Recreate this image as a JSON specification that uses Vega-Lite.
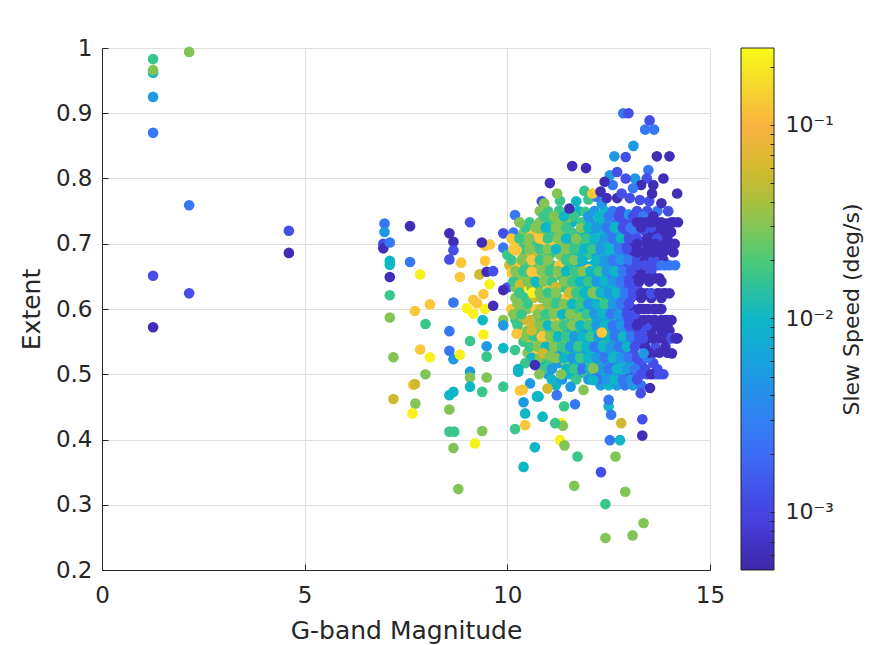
{
  "$schema": "https://vega.github.io/schema/vega-lite/v6.json",
  "width": 608,
  "height": 522,
  "autosize": {"type": "none"},
  "padding": {"left": 102, "top": 48, "right": 181, "bottom": 75},
  "background": "white",
  "config": {"view": {"stroke": null}, "font": "DejaVu Sans"},
  "data": {
    "values": [
      {"mag":10.3,"ext":0.733,"speed":0.03},{"mag":10.55,"ext":0.733,"speed":0.017},{"mag":10.8,"ext":0.733,"speed":0.03},{"mag":11.05,"ext":0.733,"speed":0.017},{"mag":11.3,"ext":0.733,"speed":0.03},{"mag":11.43,"ext":0.728,"speed":0.03},{"mag":11.6,"ext":0.733,"speed":0.01},{"mag":11.85,"ext":0.733,"speed":0.017},{"mag":12.05,"ext":0.733,"speed":0.005},{"mag":12.3,"ext":0.733,"speed":0.01},{"mag":12.5,"ext":0.733,"speed":0.005},{"mag":12.7,"ext":0.733,"speed":0.0025},{"mag":12.9,"ext":0.733,"speed":0.0012},{"mag":13.1,"ext":0.733,"speed":0.0012},
      {"mag":10.8,"ext":0.75,"speed":0.03},{"mag":11.0,"ext":0.75,"speed":0.017},{"mag":11.28,"ext":0.751,"speed":0.017},{"mag":11.5,"ext":0.74,"speed":0.03},{"mag":11.75,"ext":0.75,"speed":0.01},{"mag":11.92,"ext":0.749,"speed":0.017},{"mag":12.15,"ext":0.75,"speed":0.005},{"mag":12.4,"ext":0.75,"speed":0.01},{"mag":12.6,"ext":0.75,"speed":0.0025},{"mag":12.8,"ext":0.75,"speed":0.0012},{"mag":13.0,"ext":0.745,"speed":0.005},{"mag":13.2,"ext":0.75,"speed":0.0012},{"mag":13.45,"ext":0.75,"speed":0.0012},{"mag":13.7,"ext":0.75,"speed":0.0025},{"mag":13.97,"ext":0.75,"speed":0.0012},
      {"mag":9.9,"ext":0.716,"speed":0.0012},{"mag":10.15,"ext":0.717,"speed":0.0025},{"mag":10.4,"ext":0.717,"speed":0.03},{"mag":10.6,"ext":0.717,"speed":0.12},{"mag":10.85,"ext":0.717,"speed":0.03},{"mag":11.1,"ext":0.717,"speed":0.017},{"mag":11.35,"ext":0.717,"speed":0.03},{"mag":11.6,"ext":0.717,"speed":0.017},{"mag":11.85,"ext":0.717,"speed":0.01},{"mag":12.1,"ext":0.717,"speed":0.005},{"mag":12.35,"ext":0.717,"speed":0.01},{"mag":12.55,"ext":0.717,"speed":0.0025},{"mag":12.75,"ext":0.717,"speed":0.005},{"mag":12.95,"ext":0.717,"speed":0.0012},{"mag":13.15,"ext":0.717,"speed":0.0025},{"mag":13.38,"ext":0.72,"speed":0.0012},{"mag":13.6,"ext":0.717,"speed":0.0006},{"mag":13.85,"ext":0.717,"speed":0.0006},
      {"mag":9.9,"ext":0.694,"speed":0.0025},{"mag":10.23,"ext":0.7,"speed":0.12},{"mag":10.45,"ext":0.7,"speed":0.03},{"mag":10.7,"ext":0.7,"speed":0.017},{"mag":10.9,"ext":0.7,"speed":0.12},{"mag":11.18,"ext":0.698,"speed":0.12},{"mag":11.35,"ext":0.7,"speed":0.03},{"mag":11.55,"ext":0.7,"speed":0.017},{"mag":11.8,"ext":0.7,"speed":0.017},{"mag":12.05,"ext":0.7,"speed":0.01},{"mag":12.25,"ext":0.7,"speed":0.005},{"mag":12.5,"ext":0.7,"speed":0.01},{"mag":12.7,"ext":0.7,"speed":0.0025},{"mag":12.9,"ext":0.7,"speed":0.0012},{"mag":13.1,"ext":0.7,"speed":0.0006},{"mag":13.3,"ext":0.7,"speed":0.0006},{"mag":13.55,"ext":0.7,"speed":0.0006},{"mag":13.77,"ext":0.7,"speed":0.0006},{"mag":14.0,"ext":0.7,"speed":0.0006},{"mag":14.13,"ext":0.7,"speed":0.0006},
      {"mag":10.0,"ext":0.683,"speed":0.017},{"mag":10.2,"ext":0.69,"speed":0.12},{"mag":10.4,"ext":0.683,"speed":0.03},{"mag":10.6,"ext":0.683,"speed":0.058},{"mag":10.85,"ext":0.683,"speed":0.03},{"mag":11.05,"ext":0.683,"speed":0.017},{"mag":11.3,"ext":0.683,"speed":0.03},{"mag":11.5,"ext":0.683,"speed":0.017},{"mag":11.75,"ext":0.683,"speed":0.01},{"mag":12.0,"ext":0.683,"speed":0.017},{"mag":12.2,"ext":0.683,"speed":0.005},{"mag":12.45,"ext":0.683,"speed":0.01},{"mag":12.65,"ext":0.683,"speed":0.005},{"mag":12.85,"ext":0.683,"speed":0.0025},{"mag":13.1,"ext":0.687,"speed":0.0006},{"mag":13.3,"ext":0.687,"speed":0.0006},{"mag":13.5,"ext":0.687,"speed":0.0006},{"mag":13.77,"ext":0.686,"speed":0.0006},{"mag":14.08,"ext":0.688,"speed":0.0006},
      {"mag":10.05,"ext":0.667,"speed":0.058},{"mag":10.25,"ext":0.667,"speed":0.12},{"mag":10.45,"ext":0.667,"speed":0.017},{"mag":10.65,"ext":0.667,"speed":0.03},{"mag":10.9,"ext":0.667,"speed":0.03},{"mag":11.1,"ext":0.667,"speed":0.017},{"mag":11.3,"ext":0.667,"speed":0.01},{"mag":11.5,"ext":0.667,"speed":0.017},{"mag":11.7,"ext":0.667,"speed":0.01},{"mag":11.9,"ext":0.667,"speed":0.005},{"mag":12.1,"ext":0.667,"speed":0.01},{"mag":12.3,"ext":0.667,"speed":0.005},{"mag":12.5,"ext":0.667,"speed":0.005},{"mag":12.7,"ext":0.667,"speed":0.0025},{"mag":12.9,"ext":0.667,"speed":0.0012},{"mag":13.1,"ext":0.667,"speed":0.0012},{"mag":13.3,"ext":0.667,"speed":0.0025},{"mag":13.5,"ext":0.667,"speed":0.0012},{"mag":13.7,"ext":0.667,"speed":0.0012},{"mag":13.9,"ext":0.667,"speed":0.0025},{"mag":14.14,"ext":0.667,"speed":0.0025},
      {"mag":10.11,"ext":0.655,"speed":0.12},{"mag":10.3,"ext":0.65,"speed":0.03},{"mag":10.55,"ext":0.65,"speed":0.017},{"mag":10.75,"ext":0.65,"speed":0.12},{"mag":10.95,"ext":0.65,"speed":0.03},{"mag":11.15,"ext":0.65,"speed":0.058},{"mag":11.35,"ext":0.65,"speed":0.017},{"mag":11.55,"ext":0.65,"speed":0.03},{"mag":11.75,"ext":0.65,"speed":0.017},{"mag":11.95,"ext":0.65,"speed":0.01},{"mag":12.15,"ext":0.65,"speed":0.005},{"mag":12.35,"ext":0.65,"speed":0.01},{"mag":12.55,"ext":0.65,"speed":0.0025},{"mag":12.75,"ext":0.65,"speed":0.005},{"mag":12.95,"ext":0.65,"speed":0.0012},{"mag":13.2,"ext":0.647,"speed":0.0006},{"mag":13.45,"ext":0.647,"speed":0.0006},{"mag":13.75,"ext":0.647,"speed":0.0006},
      {"mag":10.0,"ext":0.633,"speed":0.0012},{"mag":10.2,"ext":0.633,"speed":0.03},{"mag":10.4,"ext":0.633,"speed":0.22},{"mag":10.6,"ext":0.633,"speed":0.03},{"mag":10.8,"ext":0.633,"speed":0.017},{"mag":11.0,"ext":0.633,"speed":0.12},{"mag":11.2,"ext":0.633,"speed":0.03},{"mag":11.4,"ext":0.633,"speed":0.017},{"mag":11.6,"ext":0.633,"speed":0.03},{"mag":11.8,"ext":0.633,"speed":0.017},{"mag":12.0,"ext":0.633,"speed":0.01},{"mag":12.2,"ext":0.633,"speed":0.017},{"mag":12.4,"ext":0.633,"speed":0.005},{"mag":12.6,"ext":0.633,"speed":0.01},{"mag":12.8,"ext":0.633,"speed":0.0025},{"mag":13.0,"ext":0.633,"speed":0.0012},{"mag":13.2,"ext":0.633,"speed":0.0012},{"mag":13.45,"ext":0.624,"speed":0.0006},{"mag":13.7,"ext":0.624,"speed":0.0006},{"mag":14.0,"ext":0.624,"speed":0.0006},
      {"mag":10.2,"ext":0.617,"speed":0.03},{"mag":10.45,"ext":0.617,"speed":0.017},{"mag":10.65,"ext":0.617,"speed":0.058},{"mag":10.85,"ext":0.617,"speed":0.03},{"mag":11.05,"ext":0.617,"speed":0.03},{"mag":11.25,"ext":0.617,"speed":0.017},{"mag":11.45,"ext":0.617,"speed":0.12},{"mag":11.65,"ext":0.617,"speed":0.03},{"mag":11.85,"ext":0.617,"speed":0.017},{"mag":12.05,"ext":0.617,"speed":0.01},{"mag":12.25,"ext":0.617,"speed":0.03},{"mag":12.45,"ext":0.617,"speed":0.01},{"mag":12.65,"ext":0.617,"speed":0.005},{"mag":12.85,"ext":0.617,"speed":0.0025},{"mag":13.05,"ext":0.617,"speed":0.0012},{"mag":13.3,"ext":0.617,"speed":0.0006},{"mag":13.55,"ext":0.617,"speed":0.0006},{"mag":13.8,"ext":0.617,"speed":0.0006},
      {"mag":10.1,"ext":0.6,"speed":0.12},{"mag":10.3,"ext":0.6,"speed":0.03},{"mag":10.5,"ext":0.6,"speed":0.03},{"mag":10.7,"ext":0.6,"speed":0.12},{"mag":10.9,"ext":0.6,"speed":0.017},{"mag":11.1,"ext":0.6,"speed":0.03},{"mag":11.3,"ext":0.6,"speed":0.058},{"mag":11.5,"ext":0.6,"speed":0.017},{"mag":11.7,"ext":0.6,"speed":0.017},{"mag":11.9,"ext":0.6,"speed":0.01},{"mag":12.1,"ext":0.6,"speed":0.005},{"mag":12.3,"ext":0.6,"speed":0.01},{"mag":12.5,"ext":0.6,"speed":0.005},{"mag":12.7,"ext":0.6,"speed":0.0025},{"mag":12.9,"ext":0.6,"speed":0.0012},{"mag":13.1,"ext":0.6,"speed":0.0006},{"mag":13.35,"ext":0.6,"speed":0.0006},{"mag":13.6,"ext":0.6,"speed":0.0006},{"mag":13.8,"ext":0.6,"speed":0.0006},
      {"mag":10.2,"ext":0.583,"speed":0.017},{"mag":10.4,"ext":0.583,"speed":0.058},{"mag":10.6,"ext":0.583,"speed":0.03},{"mag":10.8,"ext":0.583,"speed":0.017},{"mag":11.0,"ext":0.583,"speed":0.03},{"mag":11.2,"ext":0.583,"speed":0.12},{"mag":11.4,"ext":0.583,"speed":0.03},{"mag":11.6,"ext":0.583,"speed":0.017},{"mag":11.8,"ext":0.583,"speed":0.01},{"mag":12.0,"ext":0.583,"speed":0.03},{"mag":12.2,"ext":0.583,"speed":0.01},{"mag":12.4,"ext":0.583,"speed":0.005},{"mag":12.6,"ext":0.583,"speed":0.01},{"mag":12.8,"ext":0.583,"speed":0.0025},{"mag":13.0,"ext":0.583,"speed":0.0012},{"mag":13.25,"ext":0.583,"speed":0.0006},{"mag":13.5,"ext":0.583,"speed":0.0006},{"mag":13.8,"ext":0.583,"speed":0.0006},{"mag":14.05,"ext":0.583,"speed":0.0006},
      {"mag":10.3,"ext":0.567,"speed":0.12},{"mag":10.5,"ext":0.567,"speed":0.03},{"mag":10.7,"ext":0.567,"speed":0.017},{"mag":10.9,"ext":0.567,"speed":0.03},{"mag":11.1,"ext":0.567,"speed":0.017},{"mag":11.3,"ext":0.567,"speed":0.03},{"mag":11.5,"ext":0.567,"speed":0.01},{"mag":11.7,"ext":0.567,"speed":0.017},{"mag":11.9,"ext":0.567,"speed":0.005},{"mag":12.1,"ext":0.567,"speed":0.01},{"mag":12.3,"ext":0.567,"speed":0.017},{"mag":12.5,"ext":0.567,"speed":0.005},{"mag":12.7,"ext":0.567,"speed":0.0025},{"mag":12.9,"ext":0.567,"speed":0.0025},{"mag":13.1,"ext":0.567,"speed":0.0012},{"mag":13.3,"ext":0.567,"speed":0.0012},{"mag":13.55,"ext":0.567,"speed":0.0006},{"mag":13.8,"ext":0.567,"speed":0.0006},{"mag":14.0,"ext":0.567,"speed":0.0006},
      {"mag":10.4,"ext":0.55,"speed":0.017},{"mag":10.6,"ext":0.55,"speed":0.12},{"mag":10.8,"ext":0.55,"speed":0.03},{"mag":11.0,"ext":0.55,"speed":0.058},{"mag":11.2,"ext":0.55,"speed":0.017},{"mag":11.4,"ext":0.55,"speed":0.03},{"mag":11.6,"ext":0.55,"speed":0.01},{"mag":11.8,"ext":0.55,"speed":0.017},{"mag":12.0,"ext":0.55,"speed":0.005},{"mag":12.2,"ext":0.55,"speed":0.01},{"mag":12.4,"ext":0.55,"speed":0.017},{"mag":12.6,"ext":0.55,"speed":0.01},{"mag":12.8,"ext":0.55,"speed":0.005},{"mag":13.0,"ext":0.55,"speed":0.0025},{"mag":13.2,"ext":0.55,"speed":0.0012},{"mag":13.45,"ext":0.555,"speed":0.0006},{"mag":13.7,"ext":0.555,"speed":0.0012},{"mag":13.95,"ext":0.555,"speed":0.0006},{"mag":14.2,"ext":0.555,"speed":0.0006},
      {"mag":10.5,"ext":0.533,"speed":0.03},{"mag":10.7,"ext":0.533,"speed":0.12},{"mag":11.1,"ext":0.533,"speed":0.017},{"mag":11.3,"ext":0.533,"speed":0.005},{"mag":11.5,"ext":0.533,"speed":0.017},{"mag":11.7,"ext":0.533,"speed":0.01},{"mag":11.9,"ext":0.533,"speed":0.005},{"mag":12.1,"ext":0.533,"speed":0.01},{"mag":12.3,"ext":0.533,"speed":0.0025},{"mag":12.5,"ext":0.533,"speed":0.005},{"mag":12.7,"ext":0.533,"speed":0.01},{"mag":12.9,"ext":0.533,"speed":0.0025},{"mag":13.1,"ext":0.533,"speed":0.0012},{"mag":13.6,"ext":0.533,"speed":0.0006},
      {"mag":10.65,"ext":0.517,"speed":0.03},{"mag":10.85,"ext":0.517,"speed":0.01},{"mag":11.05,"ext":0.517,"speed":0.017},{"mag":11.25,"ext":0.517,"speed":0.005},{"mag":11.45,"ext":0.517,"speed":0.03},{"mag":11.65,"ext":0.517,"speed":0.01},{"mag":11.85,"ext":0.517,"speed":0.005},{"mag":12.05,"ext":0.517,"speed":0.017},{"mag":12.25,"ext":0.517,"speed":0.01},{"mag":12.45,"ext":0.517,"speed":0.005},{"mag":12.65,"ext":0.517,"speed":0.0025},{"mag":12.85,"ext":0.517,"speed":0.01},{"mag":13.05,"ext":0.517,"speed":0.005},{"mag":13.3,"ext":0.517,"speed":0.0012},{"mag":13.6,"ext":0.517,"speed":0.0012},
      {"mag":11.0,"ext":0.5,"speed":0.005},{"mag":11.55,"ext":0.5,"speed":0.01},{"mag":11.75,"ext":0.5,"speed":0.005},{"mag":11.95,"ext":0.5,"speed":0.017},{"mag":12.2,"ext":0.5,"speed":0.0025},{"mag":12.4,"ext":0.5,"speed":0.01},{"mag":12.55,"ext":0.5,"speed":0.005},{"mag":12.75,"ext":0.5,"speed":0.0025},{"mag":12.9,"ext":0.5,"speed":0.01},{"mag":13.05,"ext":0.5,"speed":0.0012},{"mag":13.25,"ext":0.5,"speed":0.0025},{"mag":13.45,"ext":0.5,"speed":0.0012},{"mag":13.65,"ext":0.5,"speed":0.0025},{"mag":13.85,"ext":0.5,"speed":0.0012},
      {"mag":11.2,"ext":0.483,"speed":0.01},{"mag":12.3,"ext":0.483,"speed":0.005},{"mag":12.5,"ext":0.483,"speed":0.01},{"mag":12.7,"ext":0.483,"speed":0.005},{"mag":12.9,"ext":0.483,"speed":0.0025},{"mag":13.1,"ext":0.483,"speed":0.005},{"mag":13.3,"ext":0.483,"speed":0.0025},
      {"mag":10.9,"ext":0.742,"speed":0.017},{"mag":11.15,"ext":0.742,"speed":0.03},{"mag":11.4,"ext":0.742,"speed":0.01},{"mag":11.65,"ext":0.742,"speed":0.017},{"mag":12.0,"ext":0.742,"speed":0.005},{"mag":12.25,"ext":0.742,"speed":0.01},{"mag":12.5,"ext":0.742,"speed":0.0025},{"mag":12.75,"ext":0.742,"speed":0.0012},{"mag":13.1,"ext":0.742,"speed":0.0012},{"mag":13.35,"ext":0.742,"speed":0.0025},{"mag":13.6,"ext":0.742,"speed":0.0006},
      {"mag":10.45,"ext":0.725,"speed":0.017},{"mag":10.7,"ext":0.725,"speed":0.03},{"mag":10.95,"ext":0.725,"speed":0.01},{"mag":11.2,"ext":0.725,"speed":0.03},{"mag":11.45,"ext":0.725,"speed":0.017},{"mag":11.82,"ext":0.724,"speed":0.03},{"mag":12.0,"ext":0.725,"speed":0.01},{"mag":12.2,"ext":0.725,"speed":0.005},{"mag":12.45,"ext":0.725,"speed":0.0025},{"mag":12.65,"ext":0.725,"speed":0.01},{"mag":12.85,"ext":0.725,"speed":0.0012},{"mag":13.05,"ext":0.725,"speed":0.0025},{"mag":13.3,"ext":0.725,"speed":0.0006},{"mag":13.55,"ext":0.725,"speed":0.0012},{"mag":13.8,"ext":0.725,"speed":0.0006},{"mag":14.04,"ext":0.718,"speed":0.0006},
      {"mag":10.1,"ext":0.708,"speed":0.12},{"mag":10.3,"ext":0.708,"speed":0.017},{"mag":10.55,"ext":0.708,"speed":0.03},{"mag":10.8,"ext":0.708,"speed":0.12},{"mag":11.0,"ext":0.708,"speed":0.017},{"mag":11.25,"ext":0.708,"speed":0.03},{"mag":11.45,"ext":0.708,"speed":0.01},{"mag":11.7,"ext":0.708,"speed":0.03},{"mag":11.95,"ext":0.708,"speed":0.017},{"mag":12.15,"ext":0.708,"speed":0.01},{"mag":12.4,"ext":0.708,"speed":0.005},{"mag":12.6,"ext":0.708,"speed":0.0025},{"mag":12.8,"ext":0.708,"speed":0.01},{"mag":13.0,"ext":0.708,"speed":0.0012},{"mag":13.2,"ext":0.708,"speed":0.0012},{"mag":13.45,"ext":0.708,"speed":0.0006},{"mag":13.7,"ext":0.708,"speed":0.0012},{"mag":13.95,"ext":0.708,"speed":0.0006},
      {"mag":10.15,"ext":0.692,"speed":0.12},{"mag":10.35,"ext":0.692,"speed":0.017},{"mag":10.55,"ext":0.692,"speed":0.03},{"mag":10.8,"ext":0.692,"speed":0.017},{"mag":11.0,"ext":0.692,"speed":0.03},{"mag":11.2,"ext":0.692,"speed":0.01},{"mag":11.45,"ext":0.692,"speed":0.03},{"mag":11.65,"ext":0.692,"speed":0.017},{"mag":11.9,"ext":0.692,"speed":0.01},{"mag":12.1,"ext":0.692,"speed":0.017},{"mag":12.3,"ext":0.692,"speed":0.005},{"mag":12.55,"ext":0.692,"speed":0.01},{"mag":12.75,"ext":0.692,"speed":0.0025},{"mag":12.95,"ext":0.692,"speed":0.0012},{"mag":13.2,"ext":0.692,"speed":0.0006},{"mag":13.4,"ext":0.692,"speed":0.0012},{"mag":13.65,"ext":0.692,"speed":0.0006},{"mag":13.9,"ext":0.692,"speed":0.0006},
      {"mag":10.1,"ext":0.675,"speed":0.017},{"mag":10.35,"ext":0.675,"speed":0.03},{"mag":10.6,"ext":0.675,"speed":0.12},{"mag":10.8,"ext":0.675,"speed":0.017},{"mag":11.0,"ext":0.675,"speed":0.03},{"mag":11.28,"ext":0.667,"speed":0.12},{"mag":11.45,"ext":0.675,"speed":0.017},{"mag":11.65,"ext":0.675,"speed":0.03},{"mag":11.85,"ext":0.675,"speed":0.01},{"mag":12.0,"ext":0.661,"speed":0.12},{"mag":12.2,"ext":0.675,"speed":0.01},{"mag":12.4,"ext":0.675,"speed":0.005},{"mag":12.6,"ext":0.675,"speed":0.0025},{"mag":12.8,"ext":0.675,"speed":0.005},{"mag":13.0,"ext":0.675,"speed":0.0025},{"mag":13.2,"ext":0.675,"speed":0.0012},{"mag":13.4,"ext":0.675,"speed":0.0006},{"mag":13.6,"ext":0.675,"speed":0.0012},{"mag":13.85,"ext":0.675,"speed":0.0006},
      {"mag":10.2,"ext":0.658,"speed":0.03},{"mag":10.4,"ext":0.658,"speed":0.017},{"mag":10.6,"ext":0.657,"speed":0.12},{"mag":10.85,"ext":0.658,"speed":0.03},{"mag":11.05,"ext":0.658,"speed":0.017},{"mag":11.25,"ext":0.658,"speed":0.03},{"mag":11.45,"ext":0.658,"speed":0.01},{"mag":11.65,"ext":0.658,"speed":0.017},{"mag":11.85,"ext":0.658,"speed":0.03},{"mag":12.05,"ext":0.658,"speed":0.01},{"mag":12.25,"ext":0.658,"speed":0.017},{"mag":12.45,"ext":0.658,"speed":0.005},{"mag":12.65,"ext":0.658,"speed":0.01},{"mag":12.85,"ext":0.658,"speed":0.0025},{"mag":13.05,"ext":0.658,"speed":0.0012},{"mag":13.3,"ext":0.658,"speed":0.0006},{"mag":13.55,"ext":0.658,"speed":0.0012},
      {"mag":10.15,"ext":0.642,"speed":0.017},{"mag":10.31,"ext":0.637,"speed":0.058},{"mag":10.5,"ext":0.642,"speed":0.03},{"mag":10.7,"ext":0.642,"speed":0.01},{"mag":10.9,"ext":0.642,"speed":0.03},{"mag":11.1,"ext":0.642,"speed":0.017},{"mag":11.2,"ext":0.634,"speed":0.058},{"mag":11.4,"ext":0.642,"speed":0.03},{"mag":11.6,"ext":0.642,"speed":0.017},{"mag":11.8,"ext":0.642,"speed":0.01},{"mag":12.0,"ext":0.642,"speed":0.017},{"mag":12.2,"ext":0.642,"speed":0.005},{"mag":12.4,"ext":0.642,"speed":0.01},{"mag":12.6,"ext":0.642,"speed":0.005},{"mag":12.8,"ext":0.642,"speed":0.0025},{"mag":13.0,"ext":0.642,"speed":0.0012},{"mag":13.25,"ext":0.642,"speed":0.0006},{"mag":13.5,"ext":0.642,"speed":0.0006},{"mag":13.8,"ext":0.642,"speed":0.0006},
      {"mag":10.3,"ext":0.625,"speed":0.017},{"mag":10.62,"ext":0.625,"speed":0.22},{"mag":10.8,"ext":0.625,"speed":0.03},{"mag":11.0,"ext":0.625,"speed":0.017},{"mag":11.2,"ext":0.625,"speed":0.03},{"mag":11.53,"ext":0.625,"speed":0.058},{"mag":11.7,"ext":0.625,"speed":0.017},{"mag":11.9,"ext":0.625,"speed":0.01},{"mag":12.1,"ext":0.625,"speed":0.03},{"mag":12.3,"ext":0.625,"speed":0.01},{"mag":12.5,"ext":0.625,"speed":0.005},{"mag":12.7,"ext":0.625,"speed":0.01},{"mag":12.9,"ext":0.625,"speed":0.0025},{"mag":13.1,"ext":0.625,"speed":0.0012},{"mag":13.35,"ext":0.624,"speed":0.0006},{"mag":13.55,"ext":0.624,"speed":0.0012},{"mag":13.85,"ext":0.624,"speed":0.0006},
      {"mag":10.25,"ext":0.608,"speed":0.03},{"mag":10.5,"ext":0.608,"speed":0.017},{"mag":10.82,"ext":0.6,"speed":0.058},{"mag":11.0,"ext":0.608,"speed":0.03},{"mag":11.2,"ext":0.608,"speed":0.017},{"mag":11.4,"ext":0.608,"speed":0.03},{"mag":11.6,"ext":0.608,"speed":0.01},{"mag":11.8,"ext":0.608,"speed":0.017},{"mag":12.0,"ext":0.608,"speed":0.005},{"mag":12.2,"ext":0.608,"speed":0.01},{"mag":12.4,"ext":0.608,"speed":0.017},{"mag":12.6,"ext":0.608,"speed":0.005},{"mag":12.8,"ext":0.608,"speed":0.0025},{"mag":13.0,"ext":0.608,"speed":0.0012},{"mag":13.25,"ext":0.6,"speed":0.0006},{"mag":13.5,"ext":0.6,"speed":0.0012},{"mag":13.75,"ext":0.6,"speed":0.0006},
      {"mag":10.15,"ext":0.592,"speed":0.03},{"mag":10.35,"ext":0.592,"speed":0.017},{"mag":10.56,"ext":0.583,"speed":0.058},{"mag":10.75,"ext":0.592,"speed":0.03},{"mag":10.95,"ext":0.592,"speed":0.017},{"mag":11.15,"ext":0.592,"speed":0.03},{"mag":11.35,"ext":0.592,"speed":0.01},{"mag":11.55,"ext":0.592,"speed":0.03},{"mag":11.77,"ext":0.586,"speed":0.03},{"mag":11.95,"ext":0.592,"speed":0.017},{"mag":12.15,"ext":0.592,"speed":0.005},{"mag":12.35,"ext":0.592,"speed":0.01},{"mag":12.55,"ext":0.592,"speed":0.0025},{"mag":12.75,"ext":0.592,"speed":0.005},{"mag":12.95,"ext":0.592,"speed":0.0012},{"mag":13.15,"ext":0.592,"speed":0.0012},{"mag":13.4,"ext":0.583,"speed":0.0006},{"mag":13.65,"ext":0.583,"speed":0.0006},{"mag":13.9,"ext":0.583,"speed":0.0006},
      {"mag":10.25,"ext":0.575,"speed":0.017},{"mag":10.6,"ext":0.577,"speed":0.058},{"mag":10.8,"ext":0.575,"speed":0.03},{"mag":11.0,"ext":0.575,"speed":0.01},{"mag":11.2,"ext":0.575,"speed":0.03},{"mag":11.4,"ext":0.575,"speed":0.017},{"mag":11.6,"ext":0.575,"speed":0.03},{"mag":11.8,"ext":0.575,"speed":0.01},{"mag":12.0,"ext":0.575,"speed":0.017},{"mag":12.2,"ext":0.575,"speed":0.005},{"mag":12.4,"ext":0.575,"speed":0.01},{"mag":12.6,"ext":0.575,"speed":0.0025},{"mag":12.8,"ext":0.575,"speed":0.005},{"mag":13.0,"ext":0.575,"speed":0.0012},{"mag":13.2,"ext":0.575,"speed":0.0006},{"mag":13.45,"ext":0.575,"speed":0.0012},{"mag":13.7,"ext":0.575,"speed":0.0006},{"mag":13.95,"ext":0.575,"speed":0.0006},
      {"mag":10.45,"ext":0.558,"speed":0.03},{"mag":10.65,"ext":0.558,"speed":0.017},{"mag":10.85,"ext":0.558,"speed":0.12},{"mag":11.05,"ext":0.558,"speed":0.03},{"mag":11.25,"ext":0.558,"speed":0.01},{"mag":11.45,"ext":0.558,"speed":0.017},{"mag":11.65,"ext":0.558,"speed":0.005},{"mag":11.85,"ext":0.558,"speed":0.01},{"mag":12.05,"ext":0.558,"speed":0.017},{"mag":12.25,"ext":0.558,"speed":0.005},{"mag":12.45,"ext":0.558,"speed":0.01},{"mag":12.65,"ext":0.558,"speed":0.0025},{"mag":12.85,"ext":0.558,"speed":0.01},{"mag":13.05,"ext":0.558,"speed":0.0025},{"mag":13.25,"ext":0.558,"speed":0.0012},{"mag":13.5,"ext":0.555,"speed":0.0006},{"mag":13.75,"ext":0.555,"speed":0.0006},{"mag":14.0,"ext":0.555,"speed":0.0012},
      {"mag":10.55,"ext":0.542,"speed":0.017},{"mag":10.75,"ext":0.542,"speed":0.03},{"mag":10.95,"ext":0.542,"speed":0.01},{"mag":11.15,"ext":0.542,"speed":0.03},{"mag":11.35,"ext":0.542,"speed":0.017},{"mag":11.55,"ext":0.542,"speed":0.005},{"mag":11.75,"ext":0.542,"speed":0.017},{"mag":11.95,"ext":0.542,"speed":0.01},{"mag":12.15,"ext":0.542,"speed":0.0025},{"mag":12.35,"ext":0.542,"speed":0.01},{"mag":12.55,"ext":0.542,"speed":0.005},{"mag":12.75,"ext":0.542,"speed":0.0025},{"mag":12.95,"ext":0.542,"speed":0.01},{"mag":13.15,"ext":0.542,"speed":0.0012},{"mag":13.4,"ext":0.542,"speed":0.0006},{"mag":13.65,"ext":0.542,"speed":0.0012},{"mag":13.9,"ext":0.542,"speed":0.0006},
      {"mag":10.6,"ext":0.525,"speed":0.01},{"mag":10.8,"ext":0.525,"speed":0.03},{"mag":11.0,"ext":0.525,"speed":0.017},{"mag":11.2,"ext":0.525,"speed":0.03},{"mag":11.4,"ext":0.525,"speed":0.01},{"mag":11.6,"ext":0.525,"speed":0.005},{"mag":11.8,"ext":0.525,"speed":0.017},{"mag":12.0,"ext":0.525,"speed":0.01},{"mag":12.2,"ext":0.525,"speed":0.005},{"mag":12.4,"ext":0.525,"speed":0.0025},{"mag":12.6,"ext":0.525,"speed":0.01},{"mag":12.8,"ext":0.525,"speed":0.005},{"mag":13.0,"ext":0.525,"speed":0.0025},{"mag":13.2,"ext":0.525,"speed":0.0012},{"mag":13.45,"ext":0.525,"speed":0.0025},
      {"mag":10.9,"ext":0.508,"speed":0.017},{"mag":11.1,"ext":0.508,"speed":0.005},{"mag":11.45,"ext":0.508,"speed":0.01},{"mag":11.65,"ext":0.508,"speed":0.017},{"mag":11.85,"ext":0.508,"speed":0.0025},{"mag":12.05,"ext":0.508,"speed":0.01},{"mag":12.3,"ext":0.508,"speed":0.005},{"mag":12.5,"ext":0.508,"speed":0.0025},{"mag":12.7,"ext":0.508,"speed":0.01},{"mag":12.95,"ext":0.508,"speed":0.005},{"mag":13.15,"ext":0.508,"speed":0.0025},{"mag":13.4,"ext":0.508,"speed":0.0012},{"mag":13.7,"ext":0.508,"speed":0.0012},
      {"mag":11.1,"ext":0.492,"speed":0.01},{"mag":11.35,"ext":0.492,"speed":0.005},{"mag":11.7,"ext":0.492,"speed":0.017},{"mag":12.0,"ext":0.492,"speed":0.005},{"mag":12.25,"ext":0.492,"speed":0.0025},{"mag":12.45,"ext":0.492,"speed":0.005},{"mag":12.65,"ext":0.492,"speed":0.01},{"mag":12.85,"ext":0.492,"speed":0.0025},{"mag":13.05,"ext":0.492,"speed":0.005},{"mag":13.2,"ext":0.492,"speed":0.0012},
      {"mag":13.2,"ext":0.733,"speed":0.0006},{"mag":13.3,"ext":0.733,"speed":0.0006},{"mag":13.45,"ext":0.733,"speed":0.0006},{"mag":13.55,"ext":0.733,"speed":0.0006},{"mag":13.7,"ext":0.733,"speed":0.0006},{"mag":13.8,"ext":0.733,"speed":0.0006},{"mag":13.93,"ext":0.731,"speed":0.0006},{"mag":14.05,"ext":0.733,"speed":0.0006},{"mag":14.1,"ext":0.733,"speed":0.0006},{"mag":14.21,"ext":0.733,"speed":0.0006},
      {"mag":13.2,"ext":0.7,"speed":0.0006},{"mag":13.45,"ext":0.7,"speed":0.0006},{"mag":13.65,"ext":0.7,"speed":0.0006},{"mag":13.9,"ext":0.7,"speed":0.0006},
      {"mag":13.2,"ext":0.687,"speed":0.0006},{"mag":13.4,"ext":0.687,"speed":0.0006},{"mag":13.6,"ext":0.687,"speed":0.0006},{"mag":13.85,"ext":0.687,"speed":0.0006},{"mag":14.1,"ext":0.687,"speed":0.0006},
      {"mag":13.2,"ext":0.667,"speed":0.0012},{"mag":13.4,"ext":0.667,"speed":0.0012},{"mag":13.6,"ext":0.667,"speed":0.0012},{"mag":13.8,"ext":0.667,"speed":0.0025},{"mag":14.0,"ext":0.667,"speed":0.0025},
      {"mag":13.3,"ext":0.647,"speed":0.0006},{"mag":13.5,"ext":0.647,"speed":0.0006},{"mag":13.65,"ext":0.647,"speed":0.0006},
      {"mag":13.3,"ext":0.624,"speed":0.0006},{"mag":13.55,"ext":0.624,"speed":0.0012},{"mag":13.75,"ext":0.624,"speed":0.0006},{"mag":13.9,"ext":0.624,"speed":0.0006},
      {"mag":13.25,"ext":0.6,"speed":0.0006},{"mag":13.45,"ext":0.6,"speed":0.0006},{"mag":13.65,"ext":0.6,"speed":0.0006},
      {"mag":13.35,"ext":0.583,"speed":0.0006},{"mag":13.6,"ext":0.583,"speed":0.0006},{"mag":13.95,"ext":0.583,"speed":0.0006},
      {"mag":13.35,"ext":0.555,"speed":0.0012},{"mag":13.6,"ext":0.555,"speed":0.0006},{"mag":13.85,"ext":0.555,"speed":0.0006},{"mag":14.05,"ext":0.555,"speed":0.0012},{"mag":14.15,"ext":0.555,"speed":0.0006},
      {"mag":13.5,"ext":0.533,"speed":0.0006},{"mag":13.75,"ext":0.533,"speed":0.0006},{"mag":13.95,"ext":0.533,"speed":0.0006},{"mag":14.06,"ext":0.532,"speed":0.0006},{"mag":13.36,"ext":0.532,"speed":0.005},
      {"mag":13.3,"ext":0.5,"speed":0.0012},{"mag":13.55,"ext":0.5,"speed":0.0006},{"mag":13.75,"ext":0.5,"speed":0.0012},
      {"mag":11.05,"ext":0.793,"speed":0.0006},{"mag":10.85,"ext":0.765,"speed":0.0012},{"mag":10.91,"ext":0.762,"speed":0.03},{"mag":11.3,"ext":0.766,"speed":0.017},{"mag":11.53,"ext":0.754,"speed":0.0006},{"mag":12.33,"ext":0.761,"speed":0.005},{"mag":12.45,"ext":0.77,"speed":0.0006},{"mag":12.71,"ext":0.77,"speed":0.0006},{"mag":13.02,"ext":0.77,"speed":0.0012},{"mag":13.27,"ext":0.767,"speed":0.0012},{"mag":11.7,"ext":0.765,"speed":0.01},{"mag":12.0,"ext":0.768,"speed":0.017},{"mag":12.2,"ext":0.772,"speed":0.0025},{"mag":13.8,"ext":0.762,"speed":0.0006},{"mag":13.5,"ext":0.765,"speed":0.0012},
      {"mag":12.86,"ext":0.9,"speed":0.0025},{"mag":12.99,"ext":0.9,"speed":0.0012},{"mag":13.51,"ext":0.889,"speed":0.0012},{"mag":13.4,"ext":0.875,"speed":0.0025},{"mag":13.62,"ext":0.875,"speed":0.0025},{"mag":13.11,"ext":0.85,"speed":0.005},{"mag":12.64,"ext":0.834,"speed":0.005},{"mag":12.92,"ext":0.833,"speed":0.0012},{"mag":13.69,"ext":0.834,"speed":0.0006},{"mag":14.0,"ext":0.834,"speed":0.0006},{"mag":11.6,"ext":0.819,"speed":0.0006},{"mag":11.94,"ext":0.816,"speed":0.0006},{"mag":12.53,"ext":0.805,"speed":0.005},{"mag":12.71,"ext":0.81,"speed":0.0012},{"mag":13.15,"ext":0.8,"speed":0.005},{"mag":13.48,"ext":0.813,"speed":0.0025},{"mag":13.44,"ext":0.8,"speed":0.0012},{"mag":12.92,"ext":0.8,"speed":0.0012},{"mag":13.3,"ext":0.79,"speed":0.0006},{"mag":13.6,"ext":0.79,"speed":0.0006},{"mag":13.85,"ext":0.8,"speed":0.0006},{"mag":12.6,"ext":0.79,"speed":0.0025},{"mag":11.23,"ext":0.777,"speed":0.03},{"mag":11.9,"ext":0.781,"speed":0.017},{"mag":12.1,"ext":0.777,"speed":0.12},{"mag":13.57,"ext":0.777,"speed":0.0006},{"mag":14.19,"ext":0.777,"speed":0.0006},{"mag":12.82,"ext":0.777,"speed":0.0012},{"mag":12.3,"ext":0.78,"speed":0.0006},{"mag":13.1,"ext":0.785,"speed":0.0025},{"mag":12.4,"ext":0.795,"speed":0.0006},
      {"mag":6.97,"ext":0.731,"speed":0.0025},{"mag":6.97,"ext":0.718,"speed":0.005},{"mag":6.94,"ext":0.7,"speed":0.0012},{"mag":6.94,"ext":0.693,"speed":0.0006},{"mag":7.1,"ext":0.702,"speed":0.0025},{"mag":7.6,"ext":0.727,"speed":0.0006},{"mag":7.1,"ext":0.674,"speed":0.01},{"mag":7.1,"ext":0.668,"speed":0.01},{"mag":7.6,"ext":0.672,"speed":0.0025},{"mag":7.1,"ext":0.649,"speed":0.0006},{"mag":7.85,"ext":0.653,"speed":0.22},{"mag":7.1,"ext":0.621,"speed":0.017},{"mag":7.1,"ext":0.587,"speed":0.03},{"mag":7.72,"ext":0.597,"speed":0.12},{"mag":8.09,"ext":0.607,"speed":0.12},{"mag":7.98,"ext":0.577,"speed":0.017},{"mag":7.19,"ext":0.526,"speed":0.03},{"mag":7.85,"ext":0.538,"speed":0.12},{"mag":8.09,"ext":0.526,"speed":0.22},{"mag":7.98,"ext":0.5,"speed":0.03},{"mag":7.68,"ext":0.484,"speed":0.12},{"mag":7.72,"ext":0.485,"speed":0.058},
      {"mag":8.57,"ext":0.716,"speed":0.0006},{"mag":8.67,"ext":0.703,"speed":0.0006},{"mag":8.67,"ext":0.69,"speed":0.0012},{"mag":8.57,"ext":0.676,"speed":0.0012},{"mag":9.08,"ext":0.733,"speed":0.0012},{"mag":8.86,"ext":0.671,"speed":0.12},{"mag":8.83,"ext":0.649,"speed":0.12},{"mag":8.67,"ext":0.61,"speed":0.0025},{"mag":8.57,"ext":0.566,"speed":0.0025},{"mag":9.08,"ext":0.551,"speed":0.017},{"mag":8.57,"ext":0.536,"speed":0.0025},{"mag":8.67,"ext":0.523,"speed":0.005},{"mag":8.83,"ext":0.53,"speed":0.22},{"mag":9.08,"ext":0.504,"speed":0.005},{"mag":9.08,"ext":0.495,"speed":0.03},{"mag":9.49,"ext":0.495,"speed":0.03},{"mag":9.49,"ext":0.527,"speed":0.017},{"mag":9.49,"ext":0.543,"speed":0.005},{"mag":9.41,"ext":0.561,"speed":0.22},{"mag":9.39,"ext":0.583,"speed":0.01},{"mag":9.16,"ext":0.593,"speed":0.22},{"mag":9.0,"ext":0.601,"speed":0.22},{"mag":9.45,"ext":0.6,"speed":0.22},{"mag":9.16,"ext":0.614,"speed":0.12},{"mag":9.25,"ext":0.609,"speed":0.12},{"mag":9.65,"ext":0.605,"speed":0.0006},{"mag":9.41,"ext":0.623,"speed":0.12},{"mag":9.31,"ext":0.653,"speed":0.058},{"mag":9.49,"ext":0.657,"speed":0.0006},{"mag":9.65,"ext":0.658,"speed":0.0012},{"mag":9.56,"ext":0.638,"speed":0.22},{"mag":9.45,"ext":0.674,"speed":0.12},{"mag":9.45,"ext":0.697,"speed":0.12},{"mag":9.57,"ext":0.699,"speed":0.12},{"mag":9.37,"ext":0.702,"speed":0.0006},
      {"mag":10.19,"ext":0.744,"speed":0.0025},{"mag":10.3,"ext":0.733,"speed":0.03},{"mag":9.9,"ext":0.629,"speed":0.0006},{"mag":9.9,"ext":0.583,"speed":0.03},{"mag":9.9,"ext":0.575,"speed":0.005},{"mag":9.9,"ext":0.54,"speed":0.01},{"mag":10.19,"ext":0.537,"speed":0.017},{"mag":10.23,"ext":0.69,"speed":0.12},
      {"mag":7.19,"ext":0.462,"speed":0.058},{"mag":7.73,"ext":0.455,"speed":0.03},{"mag":7.66,"ext":0.44,"speed":0.22},{"mag":9.08,"ext":0.481,"speed":0.01},{"mag":9.38,"ext":0.473,"speed":0.017},{"mag":8.57,"ext":0.468,"speed":0.01},{"mag":8.67,"ext":0.473,"speed":0.01},{"mag":8.57,"ext":0.446,"speed":0.03},{"mag":8.57,"ext":0.412,"speed":0.017},{"mag":8.69,"ext":0.412,"speed":0.017},{"mag":9.38,"ext":0.413,"speed":0.03},{"mag":8.67,"ext":0.387,"speed":0.03},{"mag":9.2,"ext":0.394,"speed":0.22},{"mag":8.79,"ext":0.324,"speed":0.03},{"mag":9.9,"ext":0.481,"speed":0.017},{"mag":10.19,"ext":0.416,"speed":0.017},{"mag":10.44,"ext":0.422,"speed":0.12},{"mag":10.44,"ext":0.44,"speed":0.01},{"mag":10.4,"ext":0.457,"speed":0.005},{"mag":10.31,"ext":0.475,"speed":0.12},{"mag":10.68,"ext":0.388,"speed":0.01},{"mag":10.4,"ext":0.358,"speed":0.01},{"mag":10.27,"ext":0.504,"speed":0.01},{"mag":10.56,"ext":0.486,"speed":0.005},{"mag":10.73,"ext":0.466,"speed":0.01},
      {"mag":13.52,"ext":0.479,"speed":0.0006},{"mag":13.29,"ext":0.471,"speed":0.0012},{"mag":13.33,"ext":0.431,"speed":0.0012},{"mag":13.33,"ext":0.406,"speed":0.0006},{"mag":12.81,"ext":0.425,"speed":0.058},{"mag":12.53,"ext":0.399,"speed":0.0025},{"mag":12.78,"ext":0.399,"speed":0.01},{"mag":12.67,"ext":0.374,"speed":0.03},{"mag":12.31,"ext":0.35,"speed":0.0012},{"mag":12.91,"ext":0.32,"speed":0.03},{"mag":12.42,"ext":0.301,"speed":0.017},{"mag":13.36,"ext":0.272,"speed":0.03},{"mag":13.09,"ext":0.253,"speed":0.03},{"mag":12.42,"ext":0.249,"speed":0.03},{"mag":11.65,"ext":0.329,"speed":0.03},{"mag":11.73,"ext":0.374,"speed":0.017},{"mag":11.34,"ext":0.425,"speed":0.22},{"mag":11.3,"ext":0.399,"speed":0.22},{"mag":11.41,"ext":0.391,"speed":0.03},{"mag":11.37,"ext":0.421,"speed":0.03},{"mag":11.18,"ext":0.425,"speed":0.017},{"mag":10.87,"ext":0.435,"speed":0.01},{"mag":11.4,"ext":0.451,"speed":0.017},{"mag":11.67,"ext":0.454,"speed":0.0025},{"mag":12.5,"ext":0.451,"speed":0.01},{"mag":12.56,"ext":0.438,"speed":0.0025},{"mag":12.5,"ext":0.461,"speed":0.0025},{"mag":11.88,"ext":0.476,"speed":0.03},{"mag":11.56,"ext":0.481,"speed":0.005},{"mag":10.99,"ext":0.478,"speed":0.058},{"mag":10.77,"ext":0.466,"speed":0.01},{"mag":10.38,"ext":0.476,"speed":0.12},{"mag":10.79,"ext":0.5,"speed":0.03},{"mag":11.33,"ext":0.5,"speed":0.03},{"mag":10.89,"ext":0.532,"speed":0.058},{"mag":10.44,"ext":0.517,"speed":0.017},{"mag":12.12,"ext":0.509,"speed":0.03},{"mag":12.12,"ext":0.491,"speed":0.01},{"mag":11.22,"ext":0.468,"speed":0.0025},{"mag":10.27,"ext":0.508,"speed":0.01},{"mag":10.68,"ext":0.514,"speed":0.0006},{"mag":11.05,"ext":0.528,"speed":0.03},{"mag":10.23,"ext":0.562,"speed":0.12},{"mag":10.6,"ext":0.567,"speed":0.058},{"mag":12.33,"ext":0.564,"speed":0.12},
      {"mag":1.26,"ext":0.962,"speed":0.01},{"mag":1.26,"ext":0.983,"speed":0.017},{"mag":1.26,"ext":0.966,"speed":0.03},{"mag":1.26,"ext":0.925,"speed":0.005},{"mag":1.26,"ext":0.87,"speed":0.0025},{"mag":1.26,"ext":0.651,"speed":0.0012},{"mag":1.26,"ext":0.572,"speed":0.0006},{"mag":2.15,"ext":0.994,"speed":0.03},{"mag":2.15,"ext":0.759,"speed":0.0025},{"mag":2.15,"ext":0.624,"speed":0.0012},{"mag":4.61,"ext":0.72,"speed":0.0012},{"mag":4.61,"ext":0.686,"speed":0.0006}
    ]
  },
  "encoding": {
    "x": {
      "field": "mag",
      "type": "quantitative",
      "scale": {"domain": [0, 15], "nice": false, "zero": false},
      "axis": {
        "title": "G-band Magnitude",
        "values": [0, 5, 10, 15],
        "format": "d",
        "grid": true,
        "gridColor": "#dfdfdf",
        "domainColor": "#262626",
        "tickColor": "#262626",
        "tickSize": -6,
        "labelPadding": 20,
        "labelFlush": false,
        "labelFontSize": 23,
        "labelColor": "#262626",
        "titleFontSize": 25,
        "titleFontWeight": "normal",
        "titleColor": "#262626",
        "titleBaseline": "alphabetic",
        "titleY": 68
      }
    }
  },
  "layer": [
    {
      "mark": {"type": "circle", "opacity": 0},
      "encoding": {
        "y": {
          "field": "speed",
          "type": "quantitative",
          "scale": {"type": "log", "domain": [0.0005, 0.25], "nice": false, "zero": false},
          "axis": {
            "orient": "right",
            "offset": 64,
            "zindex": 1,
            "values": [0.0006, 0.0007, 0.0008, 0.0009, 0.001, 0.002, 0.003, 0.004, 0.005, 0.006, 0.007, 0.008, 0.009, 0.01, 0.02, 0.03, 0.04, 0.05, 0.06, 0.07, 0.08, 0.09, 0.1, 0.2],
            "labelExpr": "datum.value == 0.001 ? '10⁻³' : datum.value == 0.01 ? '10⁻²' : datum.value == 0.1 ? '10⁻¹' : ''",
            "domain": false,
            "grid": false,
            "tickColor": "#262626",
            "tickSize": -4,
            "labelPadding": 15,
            "labelFlush": false,
            "labelOverlap": false,
            "labelFontSize": 22,
            "labelColor": "#262626",
            "title": "Slew Speed (deg/s)",
            "titleFontSize": 22,
            "titleFontWeight": "normal",
            "titleColor": "#262626",
            "titleAngle": 270,
            "titleAlign": "center",
            "titleBaseline": "alphabetic",
            "titleX": 84,
            "titleY": 261
          }
        }
      }
    },
    {
      "mark": {"type": "circle", "size": 113, "opacity": 1},
      "encoding": {
        "y": {
          "field": "ext",
          "type": "quantitative",
          "scale": {"domain": [0.2, 1], "nice": false, "zero": false},
          "axis": {
            "orient": "left",
            "title": "Extent",
            "values": [0.2, 0.3, 0.4, 0.5, 0.6, 0.7, 0.8, 0.9, 1],
            "format": ".1~f",
            "grid": true,
            "gridColor": "#dfdfdf",
            "domainColor": "#262626",
            "tickColor": "#262626",
            "tickSize": -6,
            "labelPadding": 16,
            "labelFlush": false,
            "labelFontSize": 23,
            "labelColor": "#262626",
            "titleFontSize": 25,
            "titleFontWeight": "normal",
            "titleColor": "#262626",
            "titleAngle": 270,
            "titleBaseline": "alphabetic",
            "titleX": -63,
            "titleY": 261
          }
        },
        "color": {
          "field": "speed",
          "type": "quantitative",
          "scale": {
            "type": "log",
            "interpolate": "rgb",
            "domain": [0.0005, 0.000931, 0.001733, 0.003226, 0.006006, 0.01118, 0.02081, 0.03876, 0.05988, 0.09845, 0.1231, 0.1722, 0.25],
            "range": ["#3e26a8", "#4840df", "#4065f6", "#2f84f2", "#19a2de", "#0abbc0", "#50cb72", "#a6c040", "#d4ba2e", "#f9b342", "#fcc83a", "#f3dd2a", "#f9fb14"]
          },
          "legend": {
            "orient": "none",
            "legendX": 639,
            "legendY": 0,
            "direction": "vertical",
            "padding": 0,
            "title": null,
            "gradientLength": 522,
            "gradientThickness": 33,
            "gradientStrokeColor": "#262626",
            "gradientStrokeWidth": 1,
            "values": [0.001, 0.01, 0.1],
            "labelExpr": "''",
            "labelOpacity": 0
          }
        }
      }
    }
  ],
  "resolve": {"scale": {"y": "independent"}}
}
